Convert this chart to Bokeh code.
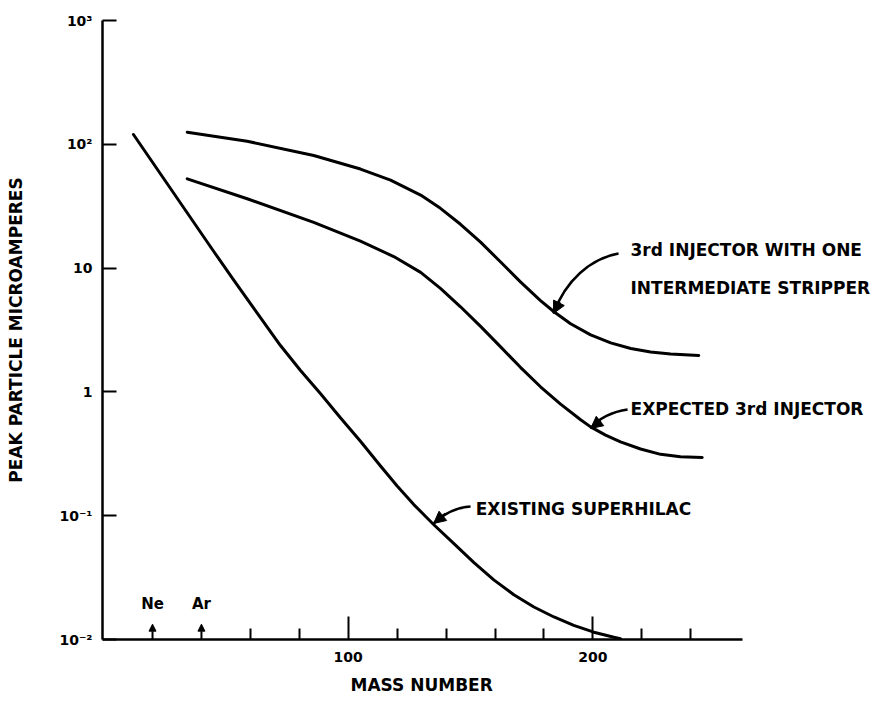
from bokeh.plotting import figure
from bokeh.models import (FixedTicker, CustomJSTickFormatter, Arrow, NormalHead, Title)
from bokeh.core.properties import value
from bokeh.embed import file_html
from bokeh.resources import INLINE

# ---------------- data ----------------
mass_superhilac = [12.2, 44.4, 53.2, 62.8, 72.3, 80.5, 88.7, 96.8, 105.0, 113.2,
                   120.0, 126.8, 135.0, 143.2, 151.4, 159.5, 167.7, 175.9, 184.1,
                   192.2, 200.4, 208.6, 211.3]
current_superhilac = [120, 14.2, 8.00, 4.33, 2.37, 1.49, 0.966, 0.619, 0.399, 0.252,
                      0.174, 0.123, 0.0845, 0.0594, 0.0418, 0.0303, 0.0230, 0.0183,
                      0.0152, 0.0130, 0.01146, 0.01042, 0.01016]

mass_expected = [34.2, 58.7, 85.9, 105.0, 118.6, 129.6, 137.7, 145.9, 154.1, 162.3,
                 170.4, 178.6, 186.8, 195.0, 199.1, 205.2, 211.3, 219.5, 227.7,
                 235.8, 244.7]
current_expected = [52.6, 36.3, 23.4, 16.5, 12.4, 9.23, 6.85, 4.87, 3.38, 2.31,
                    1.58, 1.10, 0.796, 0.596, 0.522, 0.448, 0.395, 0.346, 0.313,
                    0.299, 0.295]

mass_stripper = [34.2, 58.7, 85.9, 105.0, 117.3, 129.6, 137.7, 145.9, 154.1, 162.3,
                 170.4, 178.6, 184.1, 190.9, 199.1, 207.3, 215.5, 223.6, 231.8, 243.3]
current_stripper = [125.3, 105.9, 81.2, 63.1, 51.4, 38.9, 30.4, 22.6, 16.2, 11.2,
                    7.74, 5.47, 4.44, 3.55, 2.89, 2.49, 2.24, 2.10, 2.02, 1.97]

y_tick_values = [0.01, 0.1, 1, 10, 100, 1000]
y_tick_labels = ["10\u207b\u00b2", "10\u207b\u00b9", "1", "10", "10\u00b2", "10\u00b3"]
x_major_ticks = [100, 200]
x_major_labels = ["100", "200"]
x_minor_ticks = [60, 80, 120, 140, 160, 180, 220, 240]

element_names = ["Ne", "Ar"]
element_mass = [20, 40]

# annotation texts (anchor: left-middle, data coords)
ann_text = ["3rd INJECTOR WITH ONE", "INTERMEDIATE STRIPPER",
            "EXPECTED 3rd INJECTOR", "EXISTING SUPERHILAC"]
ann_x = [215.4, 215.4, 215.4, 152.1]
ann_y = [13.9, 6.97, 0.734, 0.1143]

# curved leader arrows: start, control points, tip, head start
lead_x0 = [210.5, 214.2, 150.0]
lead_y0 = [13.1, 0.721, 0.1185]
lead_cx0 = [199.1, 208.1, 144.3]
lead_cy0 = [11.97, 0.695, 0.1164]
lead_cx1 = [188.8, 202.3, 139.4]
lead_cy1 = [7.94, 0.610, 0.106]
lead_x1 = [183.9, 199.1, 134.9]
lead_y1 = [4.30, 0.506, 0.0865]
head_x0 = [186.4, 203.2, 139.8]
head_y0 = [5.37, 0.588, 0.104]

FONT = "DejaVu Sans"

p = figure(width=882, height=702, y_axis_type="log",
           x_range=(-0.45, 318.4), y_range=(0.01, 1000),
           output_backend="svg", toolbar_location=None,
           min_border_left=102, min_border_right=0,
           min_border_top=20, min_border_bottom=63)
p.grid.visible = False
p.outline_line_color = None
p.background_fill_color = "white"
p.border_fill_color = "white"

# x axis
xa = p.xaxis[0]
xa.ticker = FixedTicker(ticks=x_major_ticks, minor_ticks=x_minor_ticks)
xa.formatter = CustomJSTickFormatter(args=dict(vals=x_major_ticks, labs=x_major_labels),
    code="const i = vals.findIndex(v => Math.abs(v - tick) < 1e-6); return i >= 0 ? labs[i] : '';")
xa.bounds = (-0.45, 261)
xa.axis_line_width = 2.5
xa.axis_line_color = "black"
xa.major_tick_in = 23
xa.major_tick_out = 0
xa.minor_tick_in = 11
xa.minor_tick_out = 0
xa.major_tick_line_width = 2
xa.minor_tick_line_width = 2
xa.major_tick_line_color = "black"
xa.minor_tick_line_color = "black"
xa.major_label_standoff = 12
xa.major_label_text_font = FONT
xa.major_label_text_font_style = "bold"
xa.major_label_text_font_size = "14px"
xa.major_label_text_color = "black"

# x-axis title: a side title so it can be shifted along the axis
p.add_layout(Title(text="MASS NUMBER", align="left", offset=248, standoff=16,
                   text_font=FONT, text_font_style="bold", text_font_size="17px",
                   text_color="black"), "below")

# y axis
ya = p.yaxis[0]
ya.ticker = FixedTicker(ticks=y_tick_values, minor_ticks=[])
ya.formatter = CustomJSTickFormatter(args=dict(vals=y_tick_values, labs=y_tick_labels),
    code="const i = vals.findIndex(v => Math.abs(Math.log10(v) - Math.log10(tick)) < 1e-6); return i >= 0 ? labs[i] : '';")
ya.bounds = (0.01, 1000)
ya.axis_line_width = 2.5
ya.axis_line_color = "black"
ya.major_tick_in = 14
ya.major_tick_out = 0
ya.minor_tick_in = 0
ya.minor_tick_out = 0
ya.major_tick_line_width = 2
ya.major_tick_line_color = "black"
ya.major_label_standoff = 10
ya.major_label_text_font = FONT
ya.major_label_text_font_style = "bold"
ya.major_label_text_font_size = "14px"
ya.major_label_text_color = "black"
ya.axis_label = "PEAK PARTICLE MICROAMPERES"
ya.axis_label_standoff = 30
ya.axis_label_text_font = FONT
ya.axis_label_text_font_style = "bold"
ya.axis_label_text_font_size = "17px"
ya.axis_label_text_color = "black"

# curves
for xs, ys in [(mass_superhilac, current_superhilac),
               (mass_expected, current_expected),
               (mass_stripper, current_stripper)]:
    p.line(xs, ys, line_width=3, line_color="black", line_join="round", line_cap="round")

# annotation texts
p.text(x=ann_x, y=ann_y, text=ann_text, text_font=value(FONT), text_font_style="bold",
       text_font_size="17px", text_align="left", text_baseline="middle", text_color="black")

# curved leaders
p.bezier(x0=lead_x0, y0=lead_y0, x1=lead_x1, y1=lead_y1,
         cx0=lead_cx0, cy0=lead_cy0, cx1=lead_cx1, cy1=lead_cy1,
         line_width=2.5, line_color="black")
for i in range(len(lead_x1)):
    p.add_layout(Arrow(end=NormalHead(size=12, fill_color="black", line_color="black", line_width=1),
                       x_start=head_x0[i], y_start=head_y0[i], x_end=lead_x1[i], y_end=lead_y1[i],
                       line_width=2.5, line_color="black"))

# Ne / Ar markers
for name, m in zip(element_names, element_mass):
    p.add_layout(Arrow(end=NormalHead(size=7, fill_color="black", line_color="black", line_width=1),
                       x_start=m, y_start=0.01, x_end=m, y_end=0.0133,
                       line_width=2, line_color="black"))
p.text(x=element_mass, y=[0.0195] * len(element_mass), text=element_names,
       text_font=value(FONT), text_font_style="bold", text_font_size="15px",
       text_align="center", text_baseline="middle", text_color="black")

open("out.html", "w").write(file_html(p, INLINE))
